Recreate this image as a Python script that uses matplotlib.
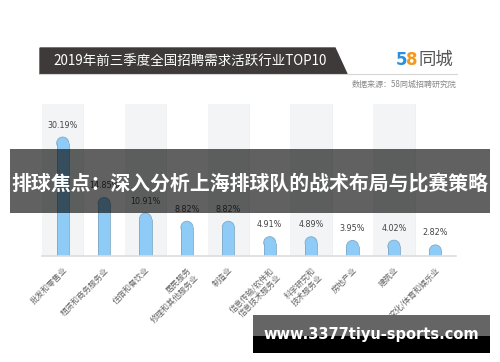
import matplotlib.pyplot as plt
from matplotlib.patches import Polygon, Rectangle, Ellipse

plt.rcParams['font.family'] = ['Noto Sans CJK SC', 'DejaVu Sans']

categories = ["批发和零售业", "租赁和商务服务业", "住宿和餐饮业", "居民服务\n修理和其他服务业", "制造业",
              "信息传输/软件和\n信息技术服务业", "科学研究和\n技术服务业", "房地产业", "建筑业", "文化/体育和娱乐业"]
values = [30.19, 14.85, 10.91, 8.82, 8.82, 4.91, 4.89, 3.95, 4.02, 2.82]
labels = ["30.19%", "14.85%", "10.91%", "8.82%", "8.82%", "4.91%", "4.89%", "3.95%", "4.02%", "2.82%"]

W, H = 500, 362
fig = plt.figure(figsize=(W / 100, H / 100), dpi=100)


def fx(x):
    return x / W


def fy(y):
    return 1 - y / H


# title banner
fig.patches.append(Polygon([(fx(40), fy(48)), (fx(335), fy(48)), (fx(347), fy(74)), (fx(40), fy(74))],
                           closed=True, transform=fig.transFigure, color="#3e3a39"))
fig.lines.append(plt.Line2D([fx(40), fx(457)], [fy(74), fy(74)], transform=fig.transFigure,
                            color="#d5d5d5", lw=0.8))
fig.text(fx(53), fy(61), "2019年前三季度全国招聘需求活跃行业TOP10", color="white",
         fontsize=9.7, va="center", ha="left")
fig.text(fx(396), fy(60), "5", color="#2b8fde", fontsize=12, fontweight="bold", va="center", family="DejaVu Sans")
fig.text(fx(406), fy(60), "8", color="#f39a1e", fontsize=12, fontweight="bold", va="center", family="DejaVu Sans")
fig.text(fx(419), fy(60), "同城", color="#555555", fontsize=12.5, va="center")
fig.text(fx(457), fy(84), "数据来源：58同城招聘研究院", color="#888888", fontsize=5.8, va="center", ha="right")

# chart
ax = fig.add_axes([fx(42), fy(256), 414 / W, 152 / H])
n = len(values)
ax.set_xlim(-0.5, n - 0.5)
ymax = 152 / 3.94
ax.set_ylim(0, ymax)
for i in range(n):
    if i % 2 == 0:
        ax.axvspan(i - 0.5, i + 0.5, color="#f2f4f5", lw=0, zorder=0)
    ax.axvline(i + 0.5, color="#eceeef", lw=0.6, zorder=0)

bw = 0.29
r = (12 / 2) / 3.94  # cap radius in data units (y)
bar_color = "#8ecbf7"
edge = "#7fa9c6"
ax.bar(range(n), [v - r for v in values], width=bw, color=bar_color, lw=0, zorder=3)
ax.vlines([i - bw / 2 for i in range(n)], 0, [v - r for v in values], color=edge, lw=0.6, zorder=3)
ax.vlines([i + bw / 2 for i in range(n)], 0, [v - r for v in values], color=edge, lw=0.6, zorder=3)
for i, v in enumerate(values):
    ax.add_patch(Ellipse((i, v - r), bw, 2 * r, facecolor=bar_color, edgecolor=edge, lw=0.6, zorder=2))
    ax.text(i, v + 12 / 3.94, labels[i], ha="center", va="center", fontsize=5.8, color="#444444",
            family="DejaVu Sans", zorder=4)

for s in ["top", "left", "right"]:
    ax.spines[s].set_visible(False)
ax.spines["bottom"].set_color("#dddddd")
ax.spines["bottom"].set_linewidth(1.2)
ax.spines["bottom"].set_zorder(5)
ax.set_yticks([])
ax.set_xticks(range(n))
ax.set_xticklabels(categories, rotation=45, ha="right", rotation_mode="anchor", fontsize=5.8,
                   color="#666666", multialignment="right")
ax.tick_params(axis="x", length=0, pad=7)

# overlay band
fig.patches.append(Rectangle((fx(10), fy(213)), fx(480), (213 - 149) / H, transform=fig.transFigure,
                             facecolor="black", alpha=0.62, lw=0, zorder=10))
fig.text(fx(250), fy(183), "排球焦点：深入分析上海排球队的战术布局与比赛策略", color="white",
         fontsize=14.3, fontweight="bold", ha="center", va="center", zorder=11)

# watermark
fig.patches.append(Rectangle((fx(253), fy(353)), fx(237), (353 - 315) / H, transform=fig.transFigure,
                             facecolor="black", lw=0, zorder=10))
fig.patches.append(Rectangle((fx(253), fy(336)), fx(237), (336 - 315) / H, transform=fig.transFigure,
                             facecolor="#656565", lw=0, zorder=10))
fig.text(fx(371), fy(335), "www.3377tiyu-sports.com", color="white", fontsize=10.5, fontweight="bold",
         ha="center", va="center", family="DejaVu Sans", zorder=11)

fig.savefig("out.png", dpi=100)
